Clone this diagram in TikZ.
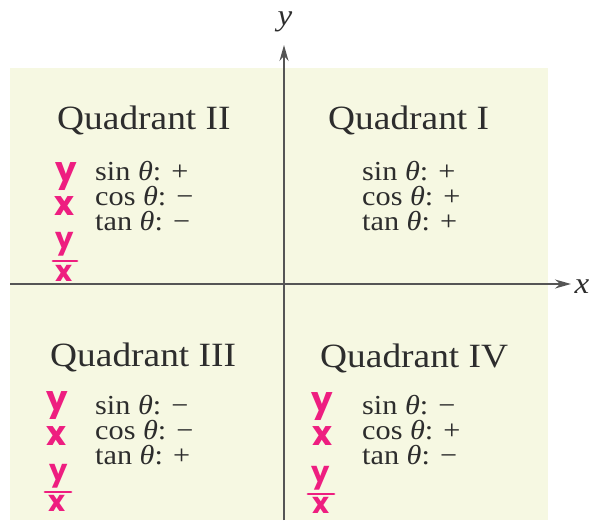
\documentclass[tikz,border=0pt]{standalone}
\usepackage{fontspec}
\usetikzlibrary{arrows.meta}
\newfontfamily\qfont[FakeStretch=1.1]{Liberation Serif}
\newfontfamily\handfont{Poppins}
\definecolor{panel}{RGB}{246,248,226}
\definecolor{axisgray}{RGB}{85,85,85}
\definecolor{txtgray}{RGB}{45,45,45}
\definecolor{pen}{RGB}{238,30,128}
\tikzset{
  qtitle/.style={anchor=base west, inner sep=0pt, text=txtgray, font=\qfont\fontsize{34}{34}\selectfont},
  qline/.style={anchor=base west, inner sep=0pt, text=txtgray, font=\qfont\fontsize{27.5}{25}\selectfont},
  axislabel/.style={inner sep=0pt, text=txtgray, font=\qfont\itshape\fontsize{30}{30}\selectfont},
  hand/.style={inner sep=0pt, text=pen, font=\handfont\bfseries\fontsize{34}{34}\selectfont},
  handfrac/.style={inner sep=0pt, text=pen, font=\handfont\bfseries\fontsize{29}{29}\selectfont},
  handbar/.style={draw=pen, line width=2.8pt, line cap=round},
  axis/.style={draw=axisgray, line width=1.8pt, -{Stealth[length=16pt,width=9pt]}}
}
\begin{document}
\begin{tikzpicture}[x=1pt,y=-1pt]
\useasboundingbox (0,0) rectangle (596,525);
\fill[panel] (10,68) rectangle (548,520);
% axes
\coordinate (xs) at (10,284);
\coordinate (xe) at (571,284);
\coordinate (ys) at (284,520);
\coordinate (ye) at (284,45);
\draw[axis] (xs) -- (xe);
\draw[axis] (ys) -- (ye);
\node[axislabel] (xl) at (582,287) {x};
\node[axislabel] (yl) at (285,22) {y};
% Quadrant II
\node[qtitle] (q2) at (57,129) {Quadrant II};
\node[qline] (q2s) at (95,180) {sin \textit{θ}: +};
\node[qline] (q2c) at (95,205) {cos \textit{θ}: −};
\node[qline] (q2t) at (95,230) {tan \textit{θ}: −};
% Quadrant I
\node[qtitle] (q1) at (328,129) {Quadrant I};
\node[qline] (q1s) at (362,180) {sin \textit{θ}: +};
\node[qline] (q1c) at (362,205) {cos \textit{θ}: +};
\node[qline] (q1t) at (362,230) {tan \textit{θ}: +};
% Quadrant III
\node[qtitle] (q3) at (50,366) {Quadrant III};
\node[qline] (q3s) at (95,414) {sin \textit{θ}: −};
\node[qline] (q3c) at (95,439) {cos \textit{θ}: −};
\node[qline] (q3t) at (95,464) {tan \textit{θ}: +};
% Quadrant IV
\node[qtitle] (q4) at (320,367) {Quadrant IV};
\node[qline] (q4s) at (362,414) {sin \textit{θ}: −};
\node[qline] (q4c) at (362,439) {cos \textit{θ}: +};
\node[qline] (q4t) at (362,464) {tan \textit{θ}: −};
% handwriting Q2
\node[hand] (h2y) at (66,177) {y};
\node[hand] (h2x) at (64,206) {x};
\node[handfrac] (h2fy) at (65,244) {y};
\coordinate (h2b1) at (53,261);
\coordinate (h2b2) at (77,261);
\draw[handbar] (h2b1) -- (h2b2);
\node[handfrac] (h2fx) at (64,273) {x};
% handwriting Q3
\node[hand] (h3y) at (57,406) {y};
\node[hand] (h3x) at (56,436) {x};
\node[handfrac] (h3fy) at (59,476) {y};
\coordinate (h3b1) at (45,492);
\coordinate (h3b2) at (71,492);
\draw[handbar] (h3b1) -- (h3b2);
\node[handfrac] (h3fx) at (57,503) {x};
% handwriting Q4
\node[hand] (h4y) at (322,407) {y};
\node[hand] (h4x) at (322,436) {x};
\node[handfrac] (h4fy) at (321,478) {y};
\coordinate (h4b1) at (308,494);
\coordinate (h4b2) at (334,494);
\draw[handbar] (h4b1) -- (h4b2);
\node[handfrac] (h4fx) at (321,505) {x};
\end{tikzpicture}
\end{document}
